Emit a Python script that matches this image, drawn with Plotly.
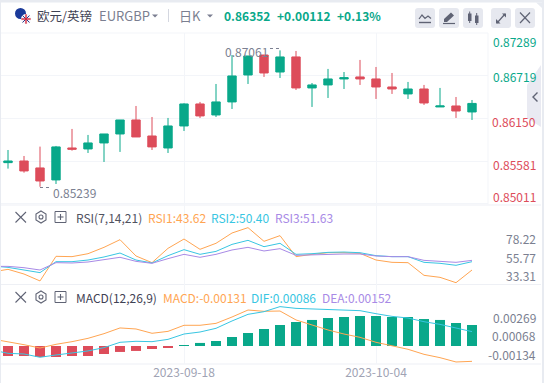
import plotly.graph_objects as go

dates = ["2023-08-31","2023-09-01","2023-09-04","2023-09-05","2023-09-06","2023-09-07","2023-09-08","2023-09-11","2023-09-12","2023-09-13","2023-09-14",
         "2023-09-15","2023-09-18","2023-09-19","2023-09-20","2023-09-21","2023-09-22","2023-09-25","2023-09-26","2023-09-27","2023-09-28",
         "2023-09-29","2023-10-02","2023-10-03","2023-10-04","2023-10-05","2023-10-06","2023-10-09","2023-10-10","2023-10-11","2023-10-12"]
date_ticks = ["2023-09-18", "2023-10-04"]

opens = [.85600,.85561,.85583,.85490,.85330,.85757,.85744,.85824,.85944,.86131,.85917,
         .85757,.86051,.86345,.86198,.86372,.86732,.86999,.86772,.86973,.86559,
         .86599,.86679,.86706,.86679,.86572,.86479,.86545,.86305,.86318,.86238]
highs = [.85700,.85730,.85650,.85775,.85784,.86011,.85931,.85944,.86131,.86318,.86171,
         .86158,.86354,.86372,.86612,.86999,.86986,.86999,.87061,.87053,.86625,
         .86813,.86772,.86933,.86839,.86759,.86639,.86599,.86559,.86438,.86398]
lows = [.85500,.85481,.85427,.85239,.85276,.85721,.85690,.85570,.85704,.85904,.85730,
        .85690,.85984,.86158,.86171,.86278,.86612,.86706,.86692,.86532,.86305,
        .86425,.86545,.86599,.86412,.86479,.86412,.86332,.86305,.86158,.86131]
closes = [.85561,.85583,.85450,.85316,.85771,.85740,.85824,.85944,.86131,.85904,.85771,
          .86051,.86345,.86185,.86372,.86719,.86986,.86759,.86973,.86559,.86599,
          .86679,.86696,.86679,.86572,.86545,.86545,.86358,.86318,.86251,.86352]

rsi1 = [38.2,41.4,35.7,27.3,57.2,56.8,60.4,68.1,77.4,57.6,49.5,66.9,78.2,65.7,73.0,85.5,92.0,75.4,82.3,56.8,59.6,
        61.6,61.6,60.8,52.7,49.9,49.5,34.1,31.7,25.2,40.6]
rsi2 = [45.5,43.8,40.6,37.4,50.7,50.7,52.7,56.4,61.2,52.7,49.1,58.0,65.3,59.6,63.2,71.7,76.6,68.9,73.0,59.6,60.4,
        62.0,62.4,61.6,58.0,56.8,56.8,49.9,48.7,46.3,50.7]
rsi3 = [45.0,45.0,43.4,40.6,49.5,49.1,50.3,52.7,56.0,51.1,48.7,54.4,59.6,56.0,59.6,64.9,68.1,63.7,66.5,58.4,59.2,
        60.0,60.0,60.0,57.6,56.8,56.8,52.3,51.5,49.9,52.3]

macd_bars = [-.00098,-.00109,-.00109,-.00120,-.00120,-.00109,-.00109,-.00087,-.00065,-.00054,-.00033,
             -.00022,.00004,.00033,.00054,.00098,.00141,.00185,.00228,.00261,.00283,
             .00304,.00315,.00326,.00326,.00315,.00315,.00293,.00283,.00250,.00228]
macd_orange = [.00076,.00047,.00014,-.00022,.00018,.00047,.00083,.00134,.00196,.00185,.00138,
               .00159,.00225,.00225,.00246,.00315,.00391,.00377,.00380,.00283,.00228,
               .00174,.00130,.00094,.00040,0,-.00036,-.00091,-.00127,-.00174,-.00167]
macd_cyan = [-.00043,-.00080,-.00087,-.00123,-.00098,-.00080,-.00054,-.00018,.00040,.00051,.00047,
             .00072,.00130,.00152,.00192,.00272,.00344,.00373,.00428,.00409,.00402,
             .00395,.00395,.00384,.00351,.00322,.00304,.00264,.00235,.00199,.00156]

price_ticks = [0.87289, 0.86719, 0.86150, 0.85581, 0.85011]
rsi_ticks = [78.22, 55.77, 33.31]
macd_ticks = [0.00269, 0.00068, -0.00134]

GREEN = "#09A88A"
RED = "#DD4C5A"
ORANGE = "#FFA552"
CYAN = "#38C6E2"
PURPLE = "#A88AE6"
GREY = "#7B7F91"
GRID = "#F3F5F9"
FONT = "Noto Sans CJK SC"

W, H = 544, 383
L, R, T, B = 1, 56, 33, 19
PW, PH = W - L - R, H - T - B


def px(x):
    return (x - L) / PW


def py(y):
    return 1 - (y - T) / PH


def path(points, close=False):
    s = "M" + " L".join(f"{px(x):.5f},{py(y):.5f}" for x, y in points)
    return s + (" Z" if close else "")


shapes = []


def poly(points, fill=None, line=None, width=1, close=True, layer="above"):
    shapes.append(dict(type="path", path=path(points, close), xref="paper", yref="paper",
                       fillcolor=fill if fill else "rgba(0,0,0,0)",
                       line=dict(color=line if line else "rgba(0,0,0,0)", width=width if line else 0), layer=layer))


def rect(x0, y0, x1, y1, fill, layer="above", line=None):
    shapes.append(dict(type="rect", xref="paper", yref="paper", x0=px(x0), x1=px(x1), y0=py(y0), y1=py(y1),
                       fillcolor=fill, line=dict(color=line if line else "rgba(0,0,0,0)", width=1 if line else 0), layer=layer))


def circle(x, y, r, fill=None, line=None, width=1):
    shapes.append(dict(type="circle", xref="paper", yref="paper", x0=px(x - r), x1=px(x + r), y0=py(y - r), y1=py(y + r),
                       fillcolor=fill if fill else "rgba(0,0,0,0)",
                       line=dict(color=line if line else "rgba(0,0,0,0)", width=width if line else 0), layer="above"))


def rounded(x0, y0, x1, y1, r, fill):
    s = (f"M{px(x0 + r):.5f},{py(y0):.5f} L{px(x1 - r):.5f},{py(y0):.5f} Q{px(x1):.5f},{py(y0):.5f} {px(x1):.5f},{py(y0 + r):.5f} "
         f"L{px(x1):.5f},{py(y1 - r):.5f} Q{px(x1):.5f},{py(y1):.5f} {px(x1 - r):.5f},{py(y1):.5f} "
         f"L{px(x0 + r):.5f},{py(y1):.5f} Q{px(x0):.5f},{py(y1):.5f} {px(x0):.5f},{py(y1 - r):.5f} "
         f"L{px(x0):.5f},{py(y0 + r):.5f} Q{px(x0):.5f},{py(y0):.5f} {px(x0 + r):.5f},{py(y0):.5f} Z")
    shapes.append(dict(type="path", path=s, xref="paper", yref="paper", fillcolor=fill, line=dict(width=0), layer="above"))


annotations = []


def label(x, y, text, color=GREY, size=12, anchor="left"):
    annotations.append(dict(xref="paper", yref="paper", x=px(x), y=py(y), text=text, showarrow=False, xanchor=anchor,
                            yanchor="middle", xshift=0, font=dict(family=FONT, size=size, color=color), borderpad=0))


def axis_label(value, yref, text, color, shift):
    annotations.append(dict(xref="paper", yref=yref, x=px(537), y=value, text=text, showarrow=False, xanchor="right",
                            yanchor="middle", yshift=shift, font=dict(family=FONT, size=12, color=color), borderpad=0))


# page frame around the white card
BG = "#E8EBF1"
rect(0, 0, W, 2.5, BG)
rect(0, 0, 1, H, BG)
rect(542, 0, W, H, BG)
poly([(536, 2.5), (542, 2.5), (542, 8)], fill=BG)

# header
circle(20.5, 13.5, 5.5, fill="#1B3A9A")
circle(26, 19, 5, fill="#F4F4F8")
poly([(22.5, 15.5), (29.5, 22.5)], line="#2A3B8F", width=1, close=False)
poly([(22.5, 22.5), (29.5, 15.5)], line="#2A3B8F", width=1, close=False)
rect(25.3, 14.3, 26.7, 23.8, "#D8283C")
rect(21.3, 18.3, 30.7, 19.7, "#D8283C")
label(36, 15, "欧元/英镑", "#3F4254", 12.5)
label(97.5, 15, "EURGBP", GREY, 13)
poly([(152, 14.5), (158, 14.5), (155, 17.5)], fill=GREY)
rect(168, 9, 169, 22, "#D4D7E0")
label(178, 15, "日K", GREY, 13)
poly([(207, 14.5), (213, 14.5), (210, 17.5)], fill=GREY)
label(223, 15, "<b>0.86352</b>", GREEN, 12)
label(276, 15, "<b>+0.00112</b>", GREEN, 12)
label(336, 15, "<b>+0.13%</b>", GREEN, 12)

# toolbar buttons
for x0 in (415, 439, 463, 491, 515):
    rounded(x0, 8, x0 + 20, 28, 3, "#E6E8EF")
IC = "#5F6374"
poly([(419, 22.5), (431, 22.5)], line=IC, width=1.4, close=False)
poly([(419, 19), (422, 15), (425, 18.5), (428, 16), (431, 18.5)], line=IC, width=1.2, close=False)
poly([(444, 22), (444, 19), (451, 12.5), (454, 15.5), (447, 22)], fill=IC)
poly([(443, 23.5), (455, 23.5)], line=IC, width=1.2, close=False)
rect(468, 13.5, 471.5, 21, IC)
poly([(469.7, 11.5), (469.7, 23)], line=IC, width=1, close=False)
rect(475, 15.5, 478.5, 23, IC)
poly([(476.7, 13), (476.7, 25)], line=IC, width=1, close=False)
poly([(497, 23), (505, 14)], line=IC, width=1.2, close=False)
poly([(502, 13.5), (506, 13.5), (506, 17.5)], fill=IC)
poly([(496, 19), (496, 23.5), (500.5, 23.5)], fill=IC)
poly([(520, 12.5), (530, 23)], line=IC, width=1.2, close=False)
poly([(530, 12.5), (520, 23)], line=IC, width=1.2, close=False)

# side collapse tab
poly([(541, 65), (527, 85), (527, 118), (541, 127)], fill="#E9EAF2")
poly([(537.5, 92.5), (533, 97), (537.5, 101.5)], line="#5F6374", width=1.4, close=False)


def panel_icons(yc):
    poly([(15.5, yc - 5), (26, yc + 5.5)], line=IC, width=1.1, close=False)
    poly([(26, yc - 5), (15.5, yc + 5.5)], line=IC, width=1.1, close=False)
    poly([(41, yc - 6), (46, yc - 3), (46, yc + 3), (41, yc + 6), (36, yc + 3), (36, yc - 3)], line=IC, width=1.1)
    circle(41, yc, 2, line=IC, width=1.1)
    rect(55, yc - 5.5, 66, yc + 5.5, "rgba(0,0,0,0)", line=IC)
    poly([(60.5, yc - 3), (60.5, yc + 3)], line=IC, width=1.1, close=False)
    poly([(57.5, yc), (63.5, yc)], line=IC, width=1.1, close=False)


panel_icons(217)
label(74.5, 217, "RSI(7,14,21)", "#50525F")
label(146.5, 217, "RSI1:43.62", ORANGE)
label(209.5, 217, "RSI2:50.40", CYAN)
label(273.5, 217, "RSI3:51.63", PURPLE)

panel_icons(297)
label(74.5, 297, "MACD(12,26,9)", "#3F4254")
label(161.5, 297, "MACD:-0.00131", ORANGE)
label(249.5, 297, "DIF:0.00086", CYAN)
label(320.5, 297, "DEA:0.00152", PURPLE)

# panel separators
for yy in (205, 284.5, 364):
    rect(1, yy - 0.5, 541, yy + 0.5, "#EEF0F5", layer="below")
rect(1, 32.5, 488, 33.5, GRID, layer="below")
rect(487.5, 33, 488.5, 205, GRID, layer="below")

# extreme price markers
label(224, 52, "0.87061", GREY)
poly([(270, 48.5), (280, 48.5)], line=GREY, width=1, close=False)
shapes[-1]["line"]["dash"] = "dot"
label(52, 192, "0.85239", GREY)
poly([(40, 187.5), (50, 187.5)], line=GREY, width=1, close=False)
shapes[-1]["line"]["dash"] = "dot"

# axis labels
for v, c, s in zip(price_ticks, [GREEN, GREEN, RED, RED, RED], [-8, -1, -2.5, -3, 7]):
    axis_label(v, "y", f"{v:.5f}", c, s)
for v in rsi_ticks:
    axis_label(v, "y2", f"{v:.2f}", GREY, 0.5)
for v in macd_ticks:
    axis_label(v, "y3", f"{v:.5f}", GREY, 4)

fig = go.Figure()
fig.add_trace(go.Candlestick(x=dates, open=opens, high=highs, low=lows, close=closes, xaxis="x", yaxis="y",
                             increasing=dict(line=dict(color=GREEN, width=1), fillcolor=GREEN),
                             decreasing=dict(line=dict(color=RED, width=1), fillcolor=RED),
                             whiskerwidth=0, hoverinfo="skip"))
for series, color in ((rsi1, ORANGE), (rsi2, CYAN), (rsi3, PURPLE)):
    fig.add_trace(go.Scatter(x=dates, y=series, mode="lines", line=dict(color=color, width=1), xaxis="x", yaxis="y2", hoverinfo="skip"))
fig.add_trace(go.Bar(x=dates, y=macd_bars, marker=dict(color=[GREEN if v >= 0 else RED for v in macd_bars], line=dict(width=0)),
                     xaxis="x", yaxis="y3", hoverinfo="skip"))
for series, color in ((macd_orange, ORANGE), (macd_cyan, CYAN)):
    fig.add_trace(go.Scatter(x=dates, y=series, mode="lines", line=dict(color=color, width=1), xaxis="x", yaxis="y3", hoverinfo="skip"))


def dom(y_top, y_bot):
    return [1 - (y_bot - T) / PH, 1 - (y_top - T) / PH]


fig.update_layout(
    width=W, height=H, margin=dict(l=L, r=R, t=T, b=B, pad=0),
    paper_bgcolor="white", plot_bgcolor="rgba(0,0,0,0)", showlegend=False, boxgap=0.25, bargap=0.375,
    font=dict(family=FONT, size=12, color=GREY),
    xaxis=dict(type="category", categoryorder="array", categoryarray=dates, range=[0.5625, 31], anchor="y3",
               tickmode="array", tickvals=date_ticks, ticktext=date_ticks, ticks="", showline=False, zeroline=False,
               showgrid=True, gridcolor=GRID, gridwidth=1, tickfont=dict(family=FONT, size=12, color="#A0A3B4"),
               tickangle=0, rangeslider=dict(visible=False), fixedrange=True),
    yaxis=dict(domain=dom(33, 205), range=[0.84995, 0.87293], tickvals=price_ticks, showticklabels=False, ticks="",
               showgrid=True, gridcolor=GRID, gridwidth=1, zeroline=False, showline=False, fixedrange=True, anchor="x"),
    yaxis2=dict(domain=dom(205, 284), range=[23.6, 119.5], showticklabels=False, ticks="", showgrid=False, zeroline=False,
                showline=False, fixedrange=True, anchor="x"),
    yaxis3=dict(domain=dom(284, 364), range=[-0.00196, 0.00674], showticklabels=False, ticks="", showgrid=False, zeroline=False,
                showline=False, fixedrange=True, anchor="x"),
    shapes=shapes, annotations=annotations,
)
fig.write_html("out.html", config=dict(displayModeBar=False), post_script="document.body.style.margin='0';")
